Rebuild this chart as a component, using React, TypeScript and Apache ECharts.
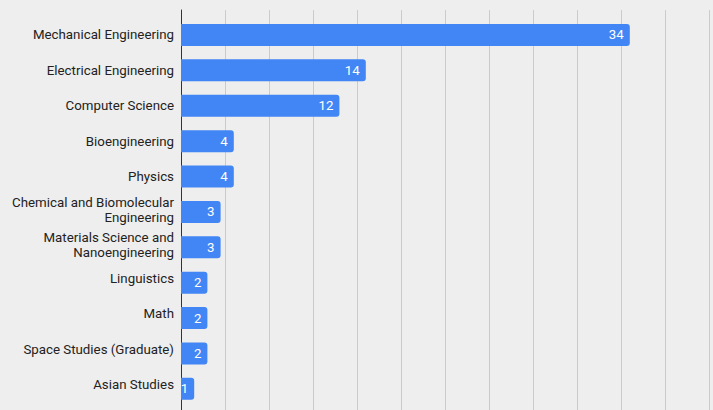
import React, { useEffect, useRef } from "react";
import * as echarts from "echarts";

const categories = [
  "Mechanical Engineering",
  "Electrical Engineering",
  "Computer Science",
  "Bioengineering",
  "Physics",
  "Chemical and Biomolecular Engineering",
  "Materials Science and Nanoengineering",
  "Linguistics",
  "Math",
  "Space Studies (Graduate)",
  "Asian Studies",
];
const values = [34, 14, 12, 4, 4, 3, 3, 2, 2, 2, 1];
const axisMax = 40;
const gridDivisions = 12;

// layout: upward nudge (px) of each category label, as in the reference
const labelLift = [0, 0, 0, 0, 0, 2, 2.5, 4, 5, 4.3, 4.5];

const FONT = "Roboto, 'Noto Sans', sans-serif";
const LABEL_SIZE = 13.3;
const WRAP_WIDTH = 166;
const LINE_H = 14.6;

function wrapLines(text: string): string[] {
  const canvas = document.createElement("canvas");
  const ctx = canvas.getContext("2d");
  if (!ctx) return [text];
  ctx.font = `${LABEL_SIZE}px Roboto`;
  const words = text.split(" ");
  const lines: string[] = [];
  let cur = "";
  for (const w of words) {
    const cand = cur ? cur + " " + w : w;
    if (cur && ctx.measureText(cand).width > WRAP_WIDTH) {
      lines.push(cur);
      cur = w;
    } else {
      cur = cand;
    }
  }
  if (cur) lines.push(cur);
  return lines;
}

export default function App() {
  const ref = useRef<HTMLDivElement>(null);
  useEffect(() => {
    if (!ref.current) return;
    const chart = echarts.init(ref.current, undefined, { renderer: "svg" });
    const rich: Record<string, any> = {
      t: {
        fontSize: LABEL_SIZE,
        fontFamily: FONT,
        color: "#222222",
        lineHeight: LINE_H,
        align: "right",
      },
    };
    labelLift.forEach((d, i) => {
      rich["g" + i] = { fontSize: 1, lineHeight: d * 2, height: d * 2 };
    });
    chart.setOption({
      animation: false,
      backgroundColor: "#eeeeee",
      grid: [
        { left: 181, right: 4, top: 10, bottom: 0, containLabel: false },
        { left: 181, right: 4, top: 17.3, bottom: 3.5, containLabel: false },
      ],
      xAxis: [
        {
          gridIndex: 0,
          type: "value",
          min: 0,
          max: axisMax,
          interval: axisMax / gridDivisions,
          axisLabel: { show: false },
          axisLine: { show: false },
          axisTick: { show: false },
          splitLine: { show: true, lineStyle: { color: "#cbcbcb", width: 1 } },
        },
        {
          gridIndex: 1,
          type: "value",
          min: 0,
          max: axisMax,
          show: false,
          splitLine: { show: false },
        },
      ],
      yAxis: [
        {
          gridIndex: 0,
          type: "value",
          min: 0,
          max: 1,
          axisLabel: { show: false },
          axisTick: { show: false },
          splitLine: { show: false },
          axisLine: { show: true, lineStyle: { color: "#333333", width: 1 } },
        },
        {
          gridIndex: 1,
          type: "category",
          inverse: true,
          data: categories,
          axisLine: { show: false },
          axisTick: { show: false },
          splitLine: { show: false },
          axisLabel: {
            margin: 7,
            color: "#222222",
            fontSize: LABEL_SIZE,
            fontFamily: FONT,
            lineHeight: LINE_H,
            rich,
            formatter: (v: string, idx: number) => {
              const lines = wrapLines(v).map((l) => `{t|${l}}`);
              const d = labelLift[idx] || 0;
              if (d > 0) lines.push(`{g${idx}| }`);
              return lines.join("\n");
            },
          },
        },
      ],
      series: [
        {
          type: "bar",
          xAxisIndex: 1,
          yAxisIndex: 1,
          data: values,
          barWidth: 22,
          itemStyle: { color: "#4285f4", borderRadius: [0, 3, 3, 0] },
          label: {
            show: true,
            position: "insideRight",
            distance: 6,
            color: "#ffffff",
            fontSize: LABEL_SIZE,
            fontFamily: FONT,
          },
        },
      ],
    });
    return () => chart.dispose();
  }, []);
  return (
    <div
      ref={ref}
      style={{ position: "fixed", left: 0, top: 0, width: 713, height: 410 }}
    />
  );
}
